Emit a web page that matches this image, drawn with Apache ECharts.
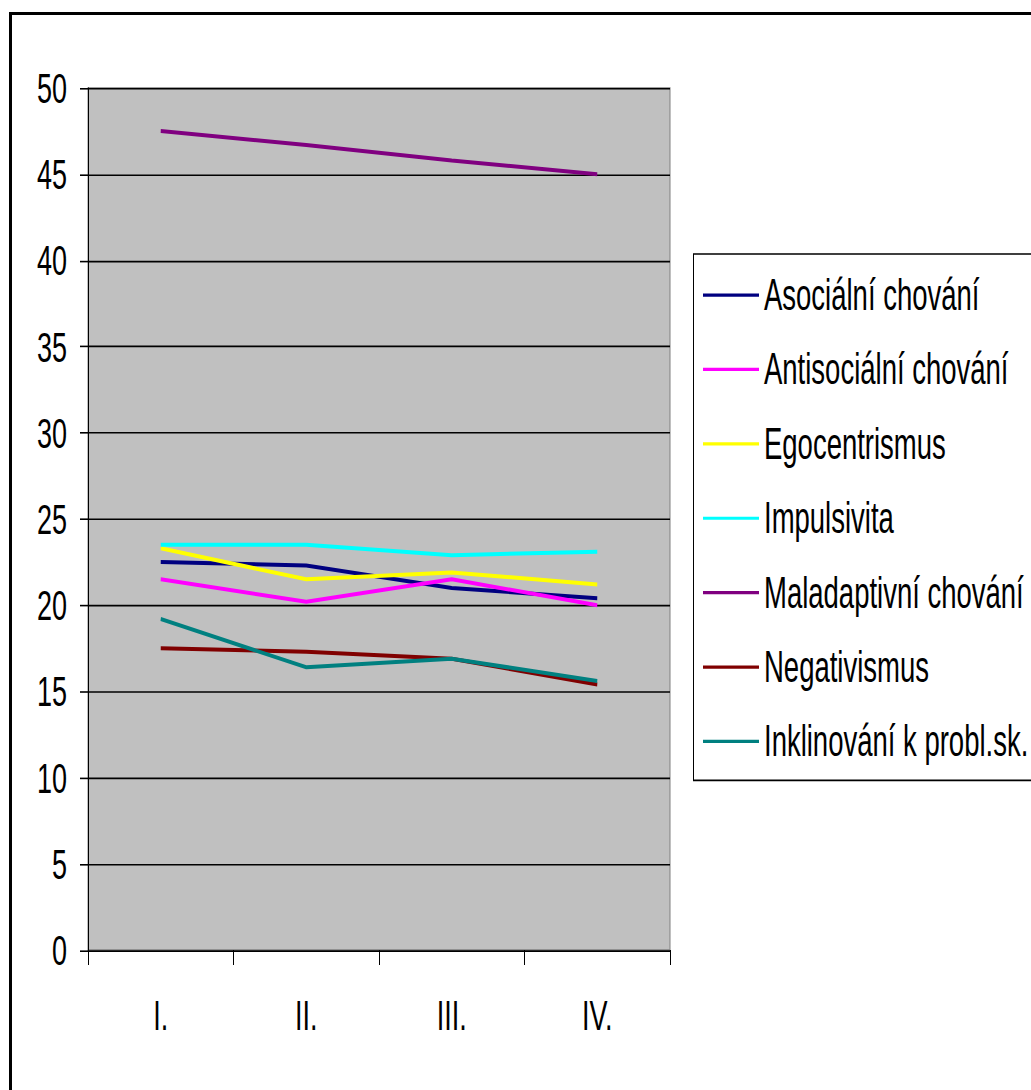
<!DOCTYPE html>
<html>
<head>
<meta charset="utf-8">
<script src="https://cdn.jsdelivr.net/npm/echarts@6/dist/echarts.min.js"></script>
<style>
  html, body { margin: 0; padding: 0; background: #fff; overflow: hidden; }
  #frame { position: absolute; left: 9px; top: 12px; width: 1100px; height: 1200px; border: 3px solid #000; box-sizing: border-box; }
  #chart { position: absolute; left: 0; top: 0; width: 1031px; height: 681.25px; transform: scaleY(1.6); transform-origin: 0 0; }
</style>
</head>
<body>
<div id="frame"></div>
<div id="chart"></div>
<script>
const categories = ['I.', 'II.', 'III.', 'IV.'];
const seriesNames = ['Asociální chování', 'Antisociální chování', 'Egocentrismus', 'Impulsivita', 'Maladaptivní chování', 'Negativismus', 'Inklinování k probl.sk.'];
const asocialni = [22.5, 22.3, 21.0, 20.4];
const antisocialni = [21.5, 20.2, 21.5, 20.0];
const egocentrismus = [23.3, 21.5, 21.9, 21.2];
const impulsivita = [23.5, 23.5, 22.9, 23.1];
const maladaptivni = [47.5, 46.7, 45.8, 45.0];
const negativismus = [17.5, 17.3, 16.9, 15.4];
const inklinovani = [19.2, 16.4, 16.9, 15.6];
const seriesColors = ['#000080', '#ff00ff', '#ffff00', '#00ffff', '#800080', '#800000', '#008080'];
const yTicks = { min: 0, max: 50, interval: 5 };

const allData = [asocialni, antisocialni, egocentrismus, impulsivita, maladaptivni, negativismus, inklinovani];
const font = '"Liberation Sans", Arial, sans-serif';

const chart = echarts.init(document.getElementById('chart'), null, { renderer: 'svg' });
chart.setOption({
  animation: false,
  textStyle: { fontFamily: font },
  grid: {
    left: 88, top: 55, width: 582, height: 538.75,
    show: true, backgroundColor: '#c0c0c0', borderColor: '#808080', borderWidth: 1
  },
  graphic: [{
    type: 'rect',
    shape: { x: 693.5, y: 158.75, width: 400, height: 329 },
    style: { fill: '#fff', stroke: '#000', lineWidth: 1 },
    z: -1
  }],
  legend: {
    orient: 'vertical',
    left: 703, top: 170.4,
    itemWidth: 56, itemHeight: 2,
    itemGap: 18.5,
    icon: 'rect',
    padding: 0,
    textStyle: { fontSize: 27.5, lineHeight: 28, color: '#000', fontFamily: font },
    data: seriesNames
  },
  xAxis: {
    type: 'category',
    data: categories,
    boundaryGap: true,
    axisLine: { show: true, lineStyle: { color: '#000', width: 1 } },
    axisTick: { show: true, inside: false, length: 9.4, alignWithLabel: false, lineStyle: { color: '#000' } },
    axisLabel: { fontSize: 27, color: '#000', margin: 27, fontFamily: font },
    splitLine: { show: false }
  },
  yAxis: {
    type: 'value',
    min: yTicks.min, max: yTicks.max, interval: yTicks.interval,
    axisLine: { show: true, lineStyle: { color: '#000', width: 1 } },
    axisTick: { show: true, inside: false, length: 8, lineStyle: { color: '#000' } },
    axisLabel: { fontSize: 27, color: '#000', margin: 21, fontFamily: font },
    splitLine: { show: true, lineStyle: { color: '#000', width: 1 } }
  },
  series: seriesNames.map((name, i) => ({
    name: name,
    type: 'line',
    data: allData[i],
    color: seriesColors[i],
    symbol: 'none',
    lineStyle: { width: 2.5, color: seriesColors[i] }
  }))
});
</script>
</body>
</html>
